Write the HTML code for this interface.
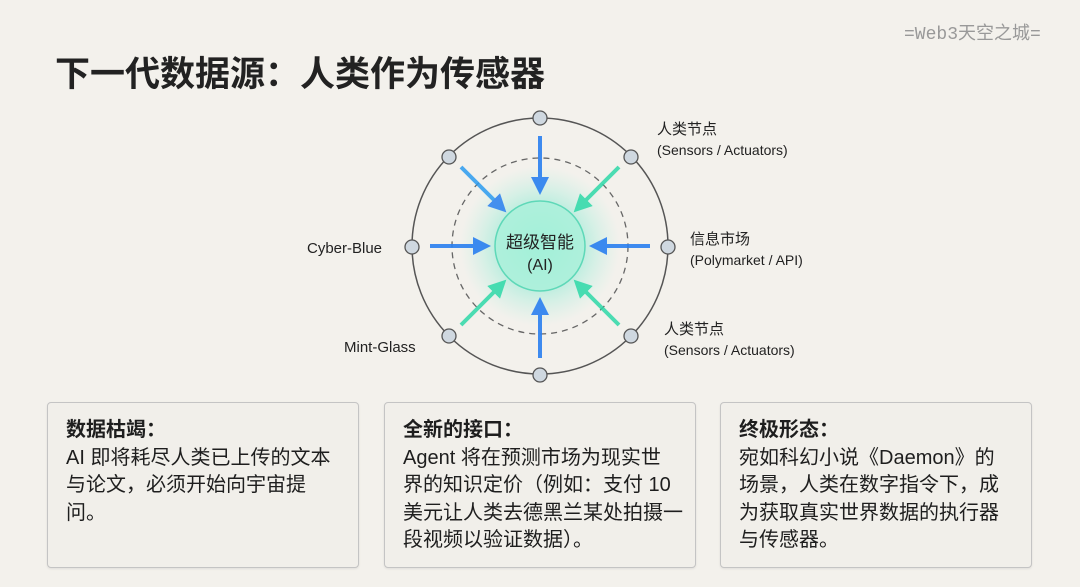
<!DOCTYPE html>
<html><head><meta charset="utf-8"><style>
body{margin:0;width:1080px;height:587px;background:#f3f1ec;font-family:"Liberation Sans","Noto Sans CJK SC",sans-serif;color:#1e1e1e;position:relative;overflow:hidden}
.t{position:absolute;white-space:nowrap}
.card{position:absolute;top:402px;height:166px;width:312px;border:1.5px solid #c4c4c4;border-radius:4px;background:#f1efea;box-sizing:border-box;padding:14px 18px;font-size:20px;line-height:27.5px;box-shadow:0 1px 2px rgba(0,0,0,.08);white-space:nowrap}
.card b{display:block}
.lb{font-size:15px;color:#222;line-height:20px}
</style></head><body>
<div class="t" style="left:904px;top:19px;font-size:18px;color:#999;font-family:'Liberation Mono','Noto Sans CJK SC',monospace">=Web3天空之城=</div>
<div class="t" style="left:55px;top:46px;font-size:35px;font-weight:bold;color:#222">下一代数据源：人类作为传感器</div>
<svg style="position:absolute;left:0;top:0" width="1080" height="400">
<defs>
<radialGradient id="g"><stop offset="0" stop-color="#3ff0c0" stop-opacity=".55"/><stop offset=".55" stop-color="#5ee8c8" stop-opacity=".35"/><stop offset="1" stop-color="#8ef0dc" stop-opacity="0"/></radialGradient>
<marker id="mb" viewBox="0 0 10 10" refX="5" refY="5" markerWidth="4.5" markerHeight="4.5" orient="auto"><path d="M0,0L10,5L0,10z" fill="#2a7ff0"/></marker>
<marker id="mg" viewBox="0 0 10 10" refX="5" refY="5" markerWidth="4.5" markerHeight="4.5" orient="auto"><path d="M0,0L10,5L0,10z" fill="#2ed9a8"/></marker>
</defs>
<circle cx="540" cy="246" r="128" fill="none" stroke="#555" stroke-width="1.5"/>
<circle cx="540" cy="246" r="88" fill="none" stroke="#666" stroke-width="1.3" stroke-dasharray="6 5"/>
<circle cx="540" cy="246" r="80" fill="url(#g)"/>
<g stroke-width="4">
<line x1="540" y1="136" x2="540" y2="186" stroke="#2a7ff0" marker-end="url(#mb)" opacity=".9"/>
<line x1="540" y1="358" x2="540" y2="306" stroke="#2a7ff0" marker-end="url(#mb)" opacity=".9"/>
<line x1="430" y1="246" x2="482" y2="246" stroke="#2a7ff0" marker-end="url(#mb)" opacity=".9"/>
<line x1="650" y1="246" x2="598" y2="246" stroke="#2a7ff0" marker-end="url(#mb)" opacity=".9"/>
<line x1="461" y1="167" x2="500" y2="206" stroke="#2c9cf0" marker-end="url(#mb)" opacity=".85"/>
<line x1="619" y1="167" x2="580" y2="206" stroke="#2ed9a8" marker-end="url(#mg)" opacity=".85"/>
<line x1="461" y1="325" x2="500" y2="286" stroke="#2ed9a8" marker-end="url(#mg)" opacity=".85"/>
<line x1="619" y1="325" x2="580" y2="286" stroke="#2ed9a8" marker-end="url(#mg)" opacity=".85"/>
</g>
<circle cx="540" cy="246" r="45" fill="#a8f0da" fill-opacity=".75" stroke="#5ed8b8" stroke-width="1.5"/>
<text x="540" y="248" text-anchor="middle" font-size="17" fill="#222" font-family="Liberation Sans,Noto Sans CJK SC,sans-serif">超级智能</text>
<text x="540" y="270" text-anchor="middle" font-size="16" fill="#222" font-family="Liberation Sans,sans-serif">(AI)</text>
<g fill="#cfd8e0" stroke="#555" stroke-width="1.3">
<circle cx="540" cy="118" r="7"/><circle cx="540" cy="375" r="7"/>
<circle cx="412" cy="247" r="7"/><circle cx="668" cy="247" r="7"/>
<circle cx="449" cy="157" r="7"/><circle cx="631" cy="157" r="7"/>
<circle cx="449" cy="336" r="7"/><circle cx="631" cy="336" r="7"/>
</g>
</svg>
<div class="t lb" style="left:657px;top:120px">人类节点<br><span style="font-size:14px">(Sensors / Actuators)</span></div>
<div class="t lb" style="left:690px;top:230px">信息市场<br><span style="font-size:14px">(Polymarket / API)</span></div>
<div class="t lb" style="left:664px;top:320px">人类节点<br><span style="font-size:14px">(Sensors / Actuators)</span></div>
<div class="t lb" style="left:307px;top:239px">Cyber-Blue</div>
<div class="t lb" style="left:344px;top:338px">Mint-Glass</div>
<div class="card" style="left:47px"><b>数据枯竭：</b>AI 即将耗尽人类已上传的文本<br>与论文，必须开始向宇宙提<br>问。</div>
<div class="card" style="left:384px"><b>全新的接口：</b>Agent 将在预测市场为现实世<br>界的知识定价（例如：支付 10<br>美元让人类去德黑兰某处拍摄一<br>段视频以验证数据）。</div>
<div class="card" style="left:720px"><b>终极形态：</b>宛如科幻小说《Daemon》的<br>场景，人类在数字指令下，成<br>为获取真实世界数据的执行器<br>与传感器。</div>
</body></html>
